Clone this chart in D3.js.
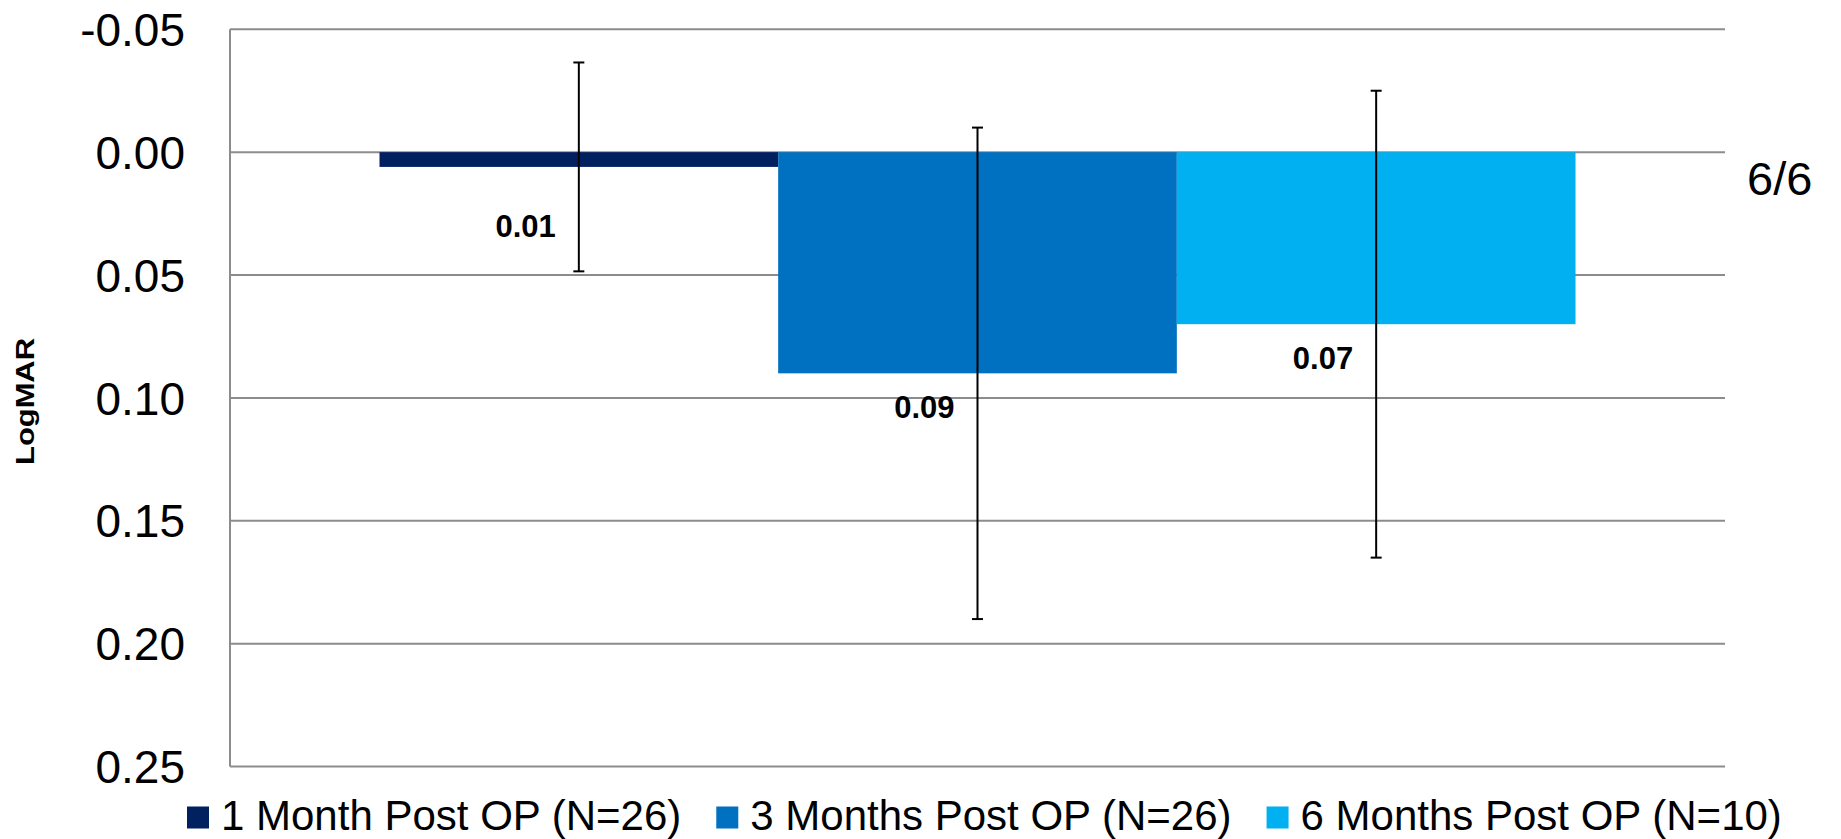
<!DOCTYPE html>
<html>
<head>
<meta charset="utf-8">
<script src="https://cdn.jsdelivr.net/npm/d3@7"></script>
<style>
  html, body { margin: 0; padding: 0; background: #fff; }
  svg { display: block; font-family: Arial, "Liberation Sans", sans-serif; }
</style>
</head>
<body>
<svg id="chart" width="1841" height="839"></svg>
<script>
// Mean LogMAR visual acuity after surgery, with ±SD error bars
const groups = ["1 Month Post OP (N=26)", "3 Months Post OP (N=26)", "6 Months Post OP (N=10)"];
const means = [0.006, 0.09, 0.07];
const errors = [0.0425, 0.10, 0.095];
const colors = ["#002060", "#0070C0", "#00B0F0"];
const yTicks = [-0.05, 0.00, 0.05, 0.10, 0.15, 0.20, 0.25];
const yDomain = [-0.05, 0.25];
const refLabel = "6/6";
const refValue = 0.00;

const svg = d3.select("#chart");
const plotLeft = 230, plotRight = 1725, plotTop = 29.3, plotBottom = 766.5;

// LogMAR axis runs downward: smaller (better) values at the top
const y = d3.scaleLinear().domain(yDomain).range([plotTop, plotBottom]);

// single category; three clustered bars with a 75% gap width
const x = d3.scaleBand().domain(groups).range([plotLeft, plotRight])
  .paddingInner(0).paddingOuter(0.375);

// gridlines
svg.append("g")
  .selectAll("line")
  .data(yTicks)
  .join("line")
  .attr("x1", plotLeft).attr("x2", plotRight)
  .attr("y1", d => y(d)).attr("y2", d => y(d))
  .attr("stroke", "#8c8c8c").attr("stroke-width", 2);

// vertical axis line
svg.append("line")
  .attr("x1", plotLeft).attr("x2", plotLeft)
  .attr("y1", plotTop).attr("y2", plotBottom)
  .attr("stroke", "#8c8c8c").attr("stroke-width", 2);

// tick labels
const axis = d3.axisLeft(y).tickValues(yTicks).tickFormat(d3.format(".2f")).tickSize(0).tickPadding(0);
const gAxis = svg.append("g").attr("transform", `translate(185,0)`).call(axis);
gAxis.select(".domain").remove();
gAxis.selectAll("text")
  .attr("font-size", 46)
  .attr("font-family", "Arial, 'Liberation Sans', sans-serif")
  .attr("fill", "#000")
  .attr("x", 0)
  .attr("dy", "0.35em")
  .text(d => d3.format(".2f")(d).replace("−", "-"));

// axis title
svg.append("text")
  .attr("transform", `translate(34,401.5) rotate(-90)`)
  .attr("text-anchor", "middle")
  .attr("font-size", 26)
  .attr("font-weight", "bold")
  .attr("textLength", 127)
  .attr("lengthAdjust", "spacingAndGlyphs")
  .text("LogMAR");

// bars
const rows = groups.map((g, i) => ({ g, mean: means[i], err: errors[i], color: colors[i], i }));
svg.append("g")
  .selectAll("rect")
  .data(rows)
  .join("rect")
  .attr("x", d => x(d.g))
  .attr("width", x.bandwidth())
  .attr("y", d => Math.min(y(0), y(d.mean)))
  .attr("height", d => Math.abs(y(d.mean) - y(0)))
  .attr("fill", d => d.color);

// error bars
const eb = svg.append("g").attr("stroke", "#000").attr("stroke-width", 2);
rows.forEach(d => {
  const cx = x(d.g) + x.bandwidth() / 2;
  const y1 = y(d.mean - d.err), y2 = y(d.mean + d.err);
  eb.append("line").attr("x1", cx).attr("x2", cx).attr("y1", y1).attr("y2", y2);
  eb.append("line").attr("x1", cx - 5.5).attr("x2", cx + 5.5).attr("y1", y1).attr("y2", y1);
  eb.append("line").attr("x1", cx - 5.5).attr("x2", cx + 5.5).attr("y1", y2).attr("y2", y2);
});

// value labels, just below each bar end and left of the error bar
const labelDrop = [70, 45, 45];
svg.append("g")
  .selectAll("text")
  .data(rows)
  .join("text")
  .attr("x", d => x(d.g) + x.bandwidth() / 2 - 23)
  .attr("y", d => y(d.mean) + labelDrop[d.i])
  .attr("text-anchor", "end")
  .attr("font-size", 31)
  .attr("font-weight", "bold")
  .text(d => d3.format(".2f")(d.mean));

// reference acuity marker on the right
svg.append("text")
  .attr("x", 1747)
  .attr("y", y(refValue) + 43)
  .attr("font-size", 47)
  .text(refLabel);

// legend
const legend = svg.append("g");
let lx = 187;
rows.forEach(d => {
  legend.append("rect")
    .attr("x", lx).attr("y", 806.5)
    .attr("width", 22).attr("height", 22)
    .attr("fill", d.color);
  const t = legend.append("text")
    .attr("x", lx + 34)
    .attr("y", 830)
    .attr("font-size", 42)
    .text(d.g);
  lx += 34 + t.node().getComputedTextLength() + 35;
});
</script>
</body>
</html>
